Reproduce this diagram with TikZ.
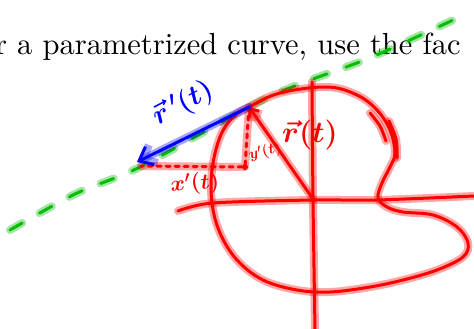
\documentclass[tikz,border=0pt]{standalone}
\usepackage{fix-cm}
\usepackage{graphicx}
\usepackage{tikz}
\usetikzlibrary{positioning, calc, arrows.meta}

\begin{document}
\begin{tikzpicture}[
        x=1pt, y=-1pt, % <--- one unit per pixel of the screenshot
        line cap=round, line join=round,
        % Define the hand drawn pen strokes (core line plus a soft halo)
        redink/.style={
            draw=red, line width=3pt,
            preaction={draw=red, opacity=0.35, line width=8pt}
        },
        blueink/.style={
            draw=blue, line width=3pt,
            preaction={draw=blue, opacity=0.35, line width=8pt}
        },
        greenink/.style={
            draw=green!75!black, line width=3pt, dash pattern=on 14pt off 20pt,
            preaction={draw=green!70!black, opacity=0.35, line width=8pt, dash pattern=on 14pt off 20pt}
        },
        reddash/.style={redink, dash pattern=on 4pt off 5pt},
        inklabel/.style={inner sep=0pt, font=\boldmath}
    ]

        % ==========================
        % PAGE AND PRINTED TEXT
        % ==========================
        \useasboundingbox (0,0) rectangle (474,329);
        \fill[white] (0,0) rectangle (474,329);
        \clip (0,0) rectangle (474,329);
        \node[anchor=base west, inner sep=0pt] (caption) at (17,55)
            {\scalebox{3.05}{\llap{For }a parametrized curve, use the fac}};

        % ==========================
        % KEY POINTS
        % ==========================
        \coordinate (O)  at (313,199);  % origin
        \coordinate (P)  at (249,107);  % point on the curve
        \coordinate (F)  at (245,167);  % corner of the component triangle
        \coordinate (Fx) at (141,166);
        \coordinate (T)  at (137,162);  % tip of the tangent vector

        % ==========================
        % TANGENT LINE
        % ==========================
        \draw[greenink] plot[smooth] coordinates
            {(10,230) (75,194) (140,167) (249,107) (297,85) (372,57) (466,14)};

        % ==========================
        % AXES
        % ==========================
        \draw[redink] plot[smooth] coordinates {(178,211) (213,203) (313,200) (377,200) (474,196)};
        \draw[redink] plot[smooth] coordinates {(312,82) (313,200) (315,329)};

        % ==========================
        % THE CURVE
        % ==========================
        \draw[redink] plot[smooth cycle, tension=0.6] coordinates {
            (249,107) (280,93) (327,87) (357,95) (377,110) (390,130) (395,153)
            (390,167) (382,183) (378,198) (387,207) (403,212) (433,215) (457,227)
            (468,243) (463,257) (437,270) (403,280) (370,287) (330,292) (297,290)
            (263,280) (237,260) (220,233) (212,203) (212,170) (220,137) (233,117)};
        % traced over twice on the right
        \draw[redink] plot[smooth] coordinates {(370,113) (380,126) (386,141)};
        \draw[redink] plot[smooth] coordinates {(389,121) (396,139) (397,158)};

        % ==========================
        % VECTORS AND COMPONENTS
        % ==========================
        \draw[redink, -{Straight Barb[length=7pt, width=12pt]}] (O) -- (P);
        \draw[reddash] (P) -- (F) -- (Fx);
        \fill[red] (F) circle (3pt);
        \draw[blueink, -{Straight Barb[length=12pt, width=20pt]}] (P) -- (T);

        % ==========================
        % LABELS
        % ==========================
        \node[inklabel, text=red, font=\boldmath\fontsize{30}{30}\selectfont] (rlabel) at (310,135) {$\vec{r}(t)$};
        \node[inklabel, text=blue, rotate=28, font=\boldmath\fontsize{28}{28}\selectfont] (dlabel) at (183,104) {$\vec{r}\,'(t)$};
        \node[inklabel, text=red, rotate=5, font=\boldmath\fontsize{22}{22}\selectfont] (xlabel) at (195,184) {$x'(t)$};
        \node[inklabel, text=red, rotate=15, font=\boldmath\fontsize{15}{15}\selectfont] (ylabel) at (265,152) {$y'(t)$};

\end{tikzpicture}
\end{document}
